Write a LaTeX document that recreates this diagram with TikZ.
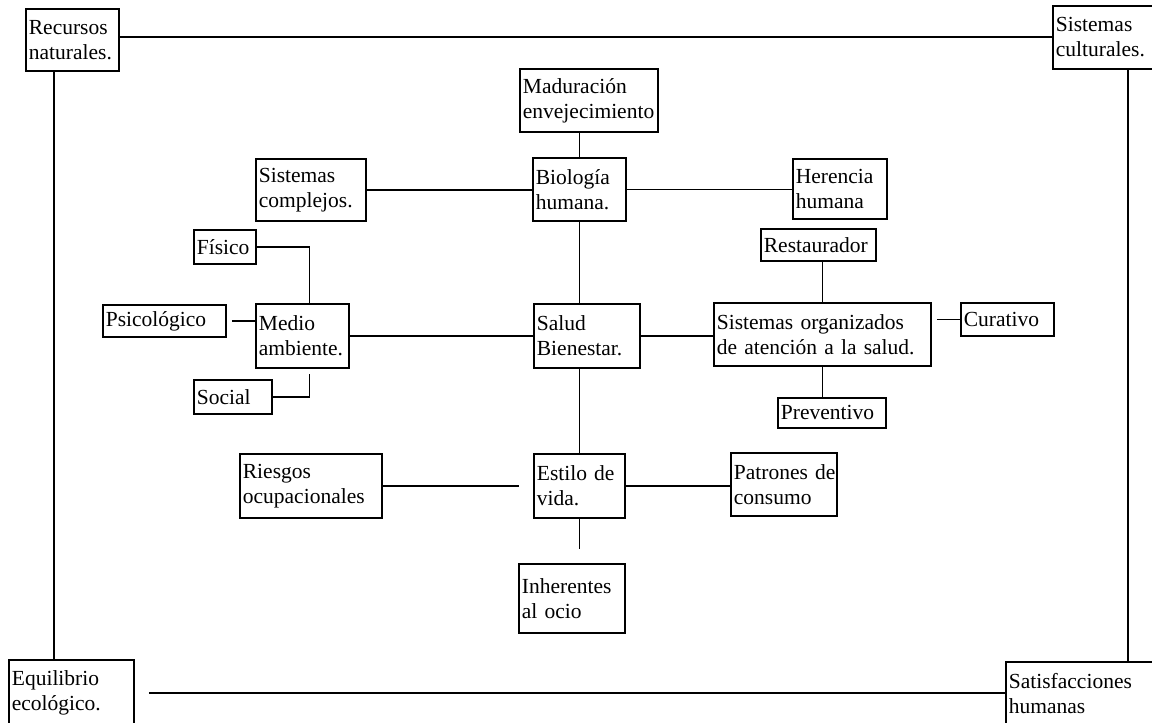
\documentclass[tikz,border=0pt]{standalone}
\usepackage{fontspec}
\setmainfont{Liberation Serif}
\begin{document}
\begin{tikzpicture}[x=1pt,y=-1pt,
  box/.style={draw, line width=1.8pt, anchor=north west, inner xsep=3pt, inner ysep=0pt,
    align=left, font=\fontsize{21.5}{25}\selectfont},
  con/.style={line width=1.8pt}]
\useasboundingbox (0,0) rectangle (1152,723);
% corner boxes
\node[box, minimum width=93pt, minimum height=62pt, text width=87pt] (rec) at (25,8) {Recursos\\naturales.};
\node[box, minimum width=104pt, minimum height=63pt, text width=98pt] (cul) at (1052,5) {Sistemas\\culturales.};
\node[box, minimum width=125pt, minimum height=66pt, text width=119pt] (equ) at (8,659) {Equilibrio\\ecológico.};
\node[box, minimum width=151pt, minimum height=64pt, text width=145pt] (sat) at (1005,661) {Satisfacciones\\humanas};
% central boxes
\node[box, minimum width=138pt, minimum height=63pt, text width=132pt] (mad) at (519,68) {Maduración\\envejecimiento};
\node[box, minimum width=93pt, minimum height=63pt, text width=87pt] (bio) at (532,157) {Biología\\humana.};
\node[box, minimum width=110pt, minimum height=62pt, text width=104pt] (com) at (255,158) {Sistemas\\complejos.};
\node[box, minimum width=94pt, minimum height=60pt, text width=88pt] (her) at (792,158) {Herencia\\humana};
\node[box, minimum width=62pt, minimum height=34pt, text width=56pt] (fis) at (193,229) {Físico};
\node[box, minimum width=123pt, minimum height=32pt, text width=117pt] (psi) at (102,304) {Psicológico};
\node[box, minimum width=93pt, minimum height=64pt, text width=87pt] (med) at (255,303) {Medio\\ambiente.};
\node[box, minimum width=78pt, minimum height=34pt, text width=72pt] (soc) at (193,379) {Social};
\node[box, minimum width=106pt, minimum height=64pt, text width=100pt] (sal) at (533,303) {Salud\\Bienestar.};
\node[box, minimum width=115pt, minimum height=32pt, text width=109pt] (res) at (760,228) {Restaurador};
\node[box, minimum width=217pt, minimum height=63pt, text width=211pt] (org) at (713,302) {Sistemas organizados\\de atención a la salud.};
\node[box, minimum width=93pt, minimum height=33pt, text width=87pt] (cur) at (960,302) {Curativo};
\node[box, minimum width=108pt, minimum height=30pt, text width=102pt] (pre) at (777,397) {Preventivo};
\node[box, minimum width=91pt, minimum height=64pt, text width=85pt] (est) at (533,453) {Estilo de\\vida.};
\node[box, minimum width=142pt, minimum height=64pt, text width=136pt] (rie) at (239,453) {Riesgos\\ocupacionales};
\node[box, minimum width=106pt, minimum height=63pt, text width=100pt] (pat) at (730,452) {Patrones~de\\consumo};
\node[box, minimum width=106pt, minimum height=69pt, text width=100pt] (inh) at (518,563) {Inherentes\\al ocio};
% outer frame connectors
\draw[con] ([yshift=3pt]rec.east) -- ([yshift=3pt]rec.east -| cul.west);
\draw[con] ([xshift=29pt]rec.south west) -- ([xshift=29pt]rec.south west |- equ.north);
\draw[con] ([xshift=76pt]cul.south west) -- ([xshift=76pt]cul.south west |- sat.north);
\draw[con] ([xshift=14pt]equ.east) -- (sat.west |- equ.east);
% central connectors
\draw[con] (bio.north) -- (bio.north |- mad.south);
\draw[con] (com.east) -- (com.east -| bio.west);
\draw[con] (bio.east) -- (bio.east -| her.west);
\draw[con] (bio.south) -- (bio.south |- sal.north);
\draw[con] (fis.east) -| ([xshift=7pt]med.north);
\draw[con] ([xshift=5pt]psi.east) -- (psi.east -| med.west);
\draw[con] (soc.east) -| ([xshift=7pt,yshift=-5pt]med.south);
\draw[con] (med.east) -- (med.east -| sal.west);
\draw[con] (sal.east) -- (sal.east -| org.west);
\draw[con] (org.north) -- (org.north |- res.south);
\draw[con] ([xshift=5pt]org.east |- cur.west) -- (cur.west);
\draw[con] (org.south) -- (org.south |- pre.north);
\draw[con] (est.north |- sal.south) -- (est.north);
\draw[con] (rie.east) -- ([xshift=-14pt]rie.east -| est.west);
\draw[con] (est.east) -- (est.east -| pat.west);
\draw[con] (est.south) -- ([yshift=14pt]est.south |- inh.north);
\end{tikzpicture}
\end{document}
